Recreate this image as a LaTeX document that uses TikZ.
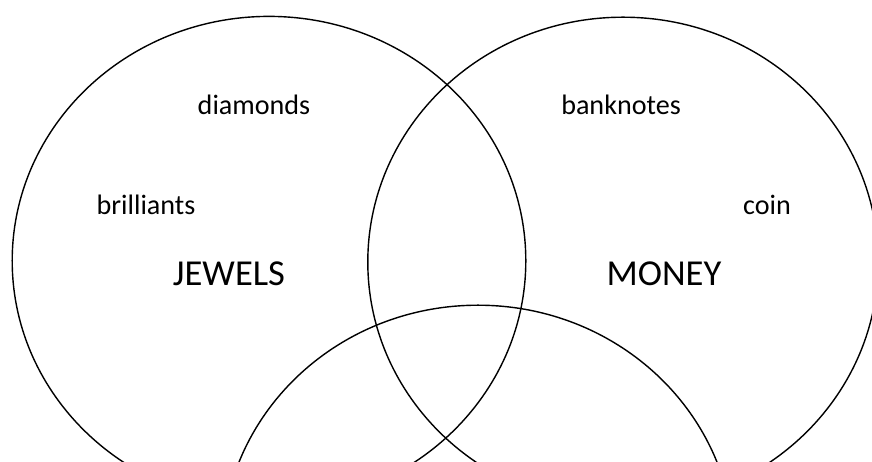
\documentclass[tikz,border=0pt]{standalone}
\usepackage{fontspec}
\setmainfont{Carlito}
\usetikzlibrary{positioning}

\begin{document}
\begin{tikzpicture}[x=1cm,y=1cm,line cap=round,line join=round,
		setring/.style={draw=black,line width=1pt},
		itemtext/.style={anchor=base,inner sep=0pt,font=\fontsize{20}{24}\selectfont},
		settitle/.style={anchor=base,inner sep=0pt,font=\fontsize{26}{31}\selectfont}]
		\useasboundingbox (0,0) rectangle (21.8,11.55);
		\clip (0,0) rectangle (21.8,11.55);
		% the three sets
		\draw[setring] (6.725,5.03) ellipse [x radius=6.42,y radius=6.11];
		\draw[setring] (15.575,5.0) ellipse [x radius=6.38,y radius=6.12];
		\draw[setring] (11.95,-2.2) ellipse [x radius=6.4,y radius=6.12];
		% jewels
		\node[settitle] (jewels) at (5.725,4.4) {JEWELS};
		\node[itemtext] (diamonds) at (6.35,8.675) {diamonds};
		\node[itemtext] (brilliants) at (3.65,6.175) {brilliants};
		% money
		\node[settitle] (money) at (16.6,4.4) {MONEY};
		\node[itemtext] (banknotes) at (15.525,8.675) {banknotes};
		\node[itemtext] (coin) at (19.175,6.175) {coin};
\end{tikzpicture}
\end{document}
